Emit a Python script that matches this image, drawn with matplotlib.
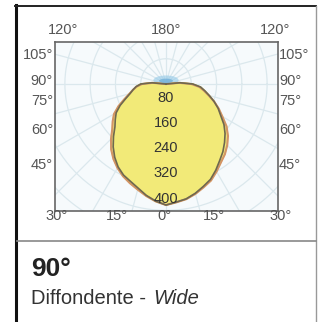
import numpy as np
import matplotlib.pyplot as plt
from matplotlib.patches import Ellipse

# photometric curve data (angle from nadir, deg; intensity, cd)
angles = list(range(-100, 101, 5))
plane_c0 = [0, 45, 80, 95, 106, 118, 136, 160, 182, 196, 211, 235, 260, 283,
            303, 318, 328, 341, 358, 372, 383,
            375, 369, 358, 345, 333, 315, 296, 280, 262, 244, 224, 200,
            182, 162, 142, 125, 110, 85, 45, 0]
plane_c90 = [0, 42, 76, 93, 106, 120, 140, 166, 190, 206, 222, 246, 270, 290,
             307, 322, 334, 346, 360, 373, 383,
             376, 370, 360, 348, 337, 320, 303, 290, 274, 256, 234, 206,
             184, 162, 140, 122, 106, 80, 42, 0]
ring_values = [80, 160, 240, 320, 400]

W, H = 318, 322
fig = plt.figure(figsize=(W / 100, H / 100), dpi=100, facecolor="white")

def fx(x):
    return x / W

def fy(y):
    return 1 - y / H

# card frame
fig.add_artist(plt.Line2D([fx(16), fx(16)], [fy(5), fy(322)], color="#111111", lw=2.2))
fig.add_artist(plt.Line2D([fx(15), fx(316)], [fy(6), fy(6)], color="#222222", lw=1.4))
fig.add_artist(plt.Line2D([fx(316), fx(316)], [fy(6), fy(322)], color="#999999", lw=1.0))
fig.add_artist(plt.Line2D([fx(17), fx(316)], [fy(241), fy(241)], color="#888888", lw=1.2))

# polar diagram in a rectangular window, centre at pixel (166, 84)
cx, cy = 166, 84
k = 1 / 0.316  # cd per pixel
left, right, top, bottom = 55, 278, 42, 211
ax = fig.add_axes([fx(left), fy(bottom), (right - left) / W, (bottom - top) / H])
ax.set_xlim((left - cx) * k, (right - cx) * k)
ax.set_ylim(-(bottom - cy) * k, (cy - top) * k)
ax.set_aspect("equal")
ax.set_facecolor("#f6fafc")
ax.set_xticks([])
ax.set_yticks([])
for s in ax.spines.values():
    s.set_color("#666666")
    s.set_linewidth(1.2)

# faint grid
t = np.linspace(0, 2 * np.pi, 400)
for r in np.arange(80, 900, 80):
    ax.plot(r * np.cos(t), r * np.sin(t), color="#dbe8ed", lw=0.9, zorder=1)
for a in np.arange(0, 360, 15):
    ar = np.radians(a)
    ax.plot([0, 900 * np.sin(ar)], [0, -900 * np.cos(ar)], color="#dbe8ed", lw=0.9, zorder=1)

th = np.radians(angles)
x0 = np.array(plane_c0) * np.sin(th)
y0 = -np.array(plane_c0) * np.cos(th)
x1 = np.array(plane_c90) * np.sin(th)
y1 = -np.array(plane_c90) * np.cos(th)

ax.add_patch(Ellipse((0, 12), 80, 30, color="#8cc6e6", alpha=0.55, lw=0, zorder=2))
ax.fill(x1, y1, color="#f2ea78", zorder=2)
ax.fill(x0, y0, color="#f2ea78", zorder=2)
ax.plot(np.append(x1, x1[0]), np.append(y1, y1[0]), color="#d39466", lw=1.5, zorder=3)
ax.plot(np.append(x0, x0[0]), np.append(y0, y0[0]), color="#6e6850", lw=1.2, zorder=4)
ax.add_patch(Ellipse((0, 10), 44, 14, color="#4f9bd0", alpha=0.5, lw=0, zorder=5))

for v in ring_values:
    ax.text(0, -v + 15, str(v), ha="center", va="bottom", fontsize=10.5,
            color="#333333", family="Liberation Sans", zorder=6)

lab = dict(fontsize=10.5, color="#555555", family="Liberation Sans")
fig.text(fx(63), fy(30), "120°", ha="center", va="center", **lab)
fig.text(fx(166), fy(30), "180°", ha="center", va="center", **lab)
fig.text(fx(275), fy(30), "120°", ha="center", va="center", **lab)
side_labels = ["105°", "90°", "75°", "60°", "45°"]
side_y = [55, 81, 101, 130, 165]
for s_, y in zip(side_labels, side_y):
    fig.text(fx(53), fy(y), s_, ha="right", va="center", **lab)
    fig.text(fx(279), fy(y), s_, ha="left", va="center", **lab)
bottom_labels = ["30°", "15°", "0°", "15°", "30°"]
bottom_x = [57, 117, 164, 214, 281]
for s_, x in zip(bottom_labels, bottom_x):
    fig.text(fx(x), fy(216), s_, ha="center", va="center", **lab)

fig.text(fx(31), fy(276), "90°", ha="left", va="baseline", fontsize=19,
         fontweight="bold", color="#222222", family="Liberation Sans")
t1 = fig.text(fx(31), fy(304), "Diffondente - ", ha="left", va="baseline", fontsize=14.5,
              color="#333333", family="Liberation Sans")
renderer = fig.canvas.get_renderer()
bb = t1.get_window_extent(renderer)
fig.text(bb.x1 / fig.bbox.width + 0.006, fy(304), "Wide", ha="left", va="baseline",
         fontsize=14.5, style="italic", color="#333333", family="Liberation Sans")

fig.savefig("out.png", dpi=100)
